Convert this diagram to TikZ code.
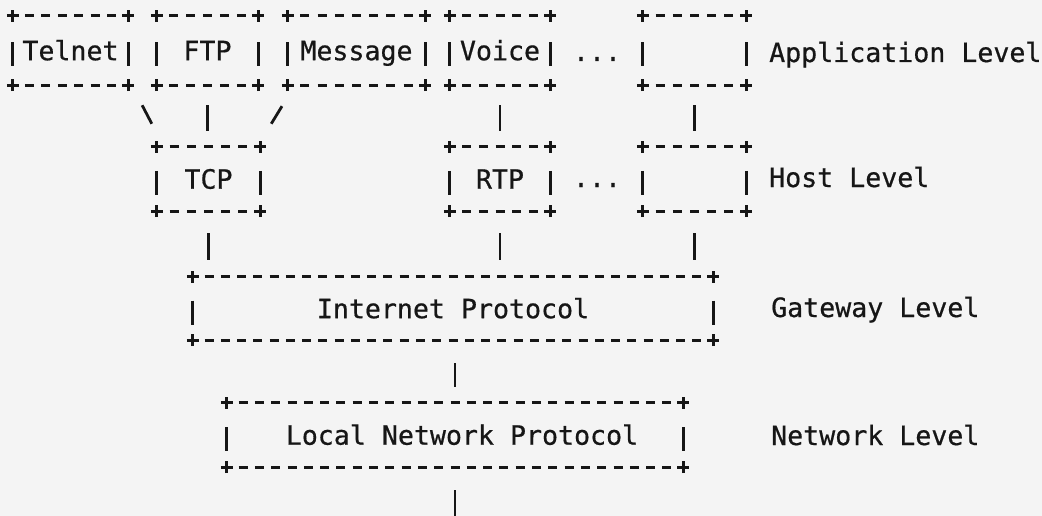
\documentclass[tikz,border=0pt]{standalone}
\usepackage{fontspec}
\newfontfamily\asciimono[FakeBold=0.6]{DejaVu Sans Mono}
\usetikzlibrary{calc}
\definecolor{ink}{RGB}{22,22,22}
\definecolor{paper}{RGB}{244,244,244}
\tikzset{
  stroke/.style={draw=ink, line width=2.8pt},
  conn/.style={draw=ink, line width=2.8pt},
  box/.style={inner sep=0pt, text height=19.4pt, text depth=0pt, text=ink,
              font=\asciimono\fontsize{26.6}{32}\selectfont},
  lbl/.style={inner sep=0pt, text=ink, font=\asciimono\fontsize{26.6}{32}\selectfont},
}
\newcommand\asciibox[2]{%
  \foreach \k in {1,...,#2}{%
    \draw[stroke] ($(#1.north west)!{\k/(#2+1)}!(#1.north east)+(-4.5pt,0)$) -- ++(9pt,0);
    \draw[stroke] ($(#1.south west)!{\k/(#2+1)}!(#1.south east)+(-4.5pt,0)$) -- ++(9pt,0);
  }
  \foreach \a in {north west,north east,south west,south east}{%
    \draw[stroke] ($(#1.\a)+(-6pt,0)$) -- ++(12pt,0);
    \draw[stroke] ($(#1.\a)+(0,-6pt)$) -- ++(0,12pt);
  }
  \foreach \a in {west,east}{%
    \draw[stroke] ($(#1.\a)+(0,8pt)$) -- ++(0,-24pt);
  }
}
\begin{document}
\begin{tikzpicture}[x=1pt,y=-1pt]
\fill[paper] (0,0) rectangle (1042,516);
\useasboundingbox (0,0) rectangle (1042,516);

% Application level
\node[box, minimum width=115pt, minimum height=69pt] (telnet) at (70.5,50.5) {Telnet};
\node[box, minimum width=101pt, minimum height=69pt] (ftp) at (207.5,50.5) {FTP};
\node[box, minimum width=137pt, minimum height=69pt] (message) at (356.5,50.5) {Message};
\node[box, minimum width=100pt, minimum height=69pt] (voice) at (500,50.5) {Voice};
\node[box, minimum width=103pt, minimum height=69pt] (appx) at (694.5,50.5) {};
\node[lbl, anchor=base] (dotsA) at (597,61) {...};
\node[lbl, anchor=base west] (applvl) at (769,62) {Application Level};

% Host level
\node[box, minimum width=103pt, minimum height=64pt] (tcp) at (208.5,179) {TCP};
\node[box, minimum width=100pt, minimum height=64pt] (rtp) at (500,179) {RTP};
\node[box, minimum width=103pt, minimum height=64pt] (hostx) at (694.5,179) {};
\node[lbl, anchor=base] (dotsB) at (597,187) {...};
\node[lbl, anchor=base west] (hostlvl) at (769,187) {Host Level};

% Gateway level
\node[box, minimum width=520pt, minimum height=63pt] (ip) at (453,308.5) {Internet Protocol};
\node[lbl, anchor=base west] (gwlvl) at (771,317) {Gateway Level};

% Network level
\node[box, minimum width=456pt, minimum height=64pt] (lnp) at (455,435) {\hspace*{14pt}Local Network Protocol};
\node[lbl, anchor=base west] (netlvl) at (771,445) {Network Level};

\asciibox{telnet}{6}
\asciibox{ftp}{5}
\asciibox{message}{7}
\asciibox{voice}{5}
\asciibox{appx}{5}
\asciibox{tcp}{5}
\asciibox{rtp}{5}
\asciibox{hostx}{5}
\asciibox{ip}{31}
\asciibox{lnp}{27}

% connectors
\draw[conn, shorten <=22.6pt, shorten >=26pt] ([xshift=3.5pt]telnet.south east) -- ([xshift=7pt]tcp.north west);
\draw[conn, shorten <=20pt, shorten >=16pt] (ftp.south) -- (ftp.south |- tcp.north);
\draw[conn, shorten <=24.6pt, shorten >=27pt] ([xshift=7pt]message.south west) -- ([xshift=-3pt]tcp.north east);
\draw[conn, shorten <=20pt, shorten >=16pt] (voice.south) -- (rtp.north);
\draw[conn, shorten <=20pt, shorten >=16pt] (appx.south) -- (hostx.north);

\draw[conn, shorten <=22pt, shorten >=17pt] (tcp.south) -- (tcp.south |- ip.north);
\draw[conn, shorten <=22pt, shorten >=17pt] (rtp.south) -- (rtp.south |- ip.north);
\draw[conn, shorten <=22pt, shorten >=17pt] (hostx.south) -- (hostx.south |- ip.north);

\draw[conn, shorten <=23pt, shorten >=16pt] (lnp.north |- ip.south) -- (lnp.north);
\coordinate (lnpout) at (455,520);
\draw[conn, shorten <=23pt] (lnp.south) -- (lnpout);
\end{tikzpicture}
\end{document}
